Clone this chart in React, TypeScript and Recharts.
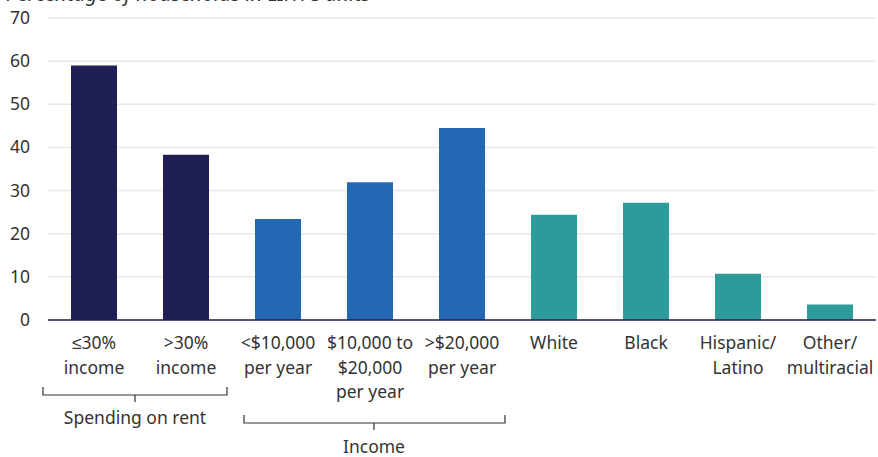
import React from 'react';
import { BarChart, Bar, XAxis, YAxis, CartesianGrid, Cell } from 'recharts';

const categories = [
  '≤30%\nincome',
  '>30%\nincome',
  '<$10,000\nper year',
  '$10,000 to\n$20,000\nper year',
  '>$20,000\nper year',
  'White',
  'Black',
  'Hispanic/\nLatino',
  'Other/\nmultiracial',
];
const values = [59.0, 38.3, 23.4, 31.9, 44.5, 24.4, 27.2, 10.7, 3.6];
const groups = ['rent', 'rent', 'income', 'income', 'income', 'race', 'race', 'race', 'race'];
const yTicks = [0, 10, 20, 30, 40, 50, 60, 70];

const groupColors: Record<string, string> = {
  rent: '#1f1f56',
  income: '#2467b3',
  race: '#2d9b9a',
};

const data = categories.map((name, i) => ({ name, value: values[i], group: groups[i] }));

const FONT = '"Noto Sans", "Segoe UI", sans-serif';

const XTick = (props: any) => {
  const { x, y, payload } = props;
  const lines = String(payload.value).split('\n');
  return (
    <g transform={`translate(${x},${y})`}>
      {lines.map((l, i) => (
        <text key={i} x={0} y={21 + i * 24.5} textAnchor="middle" fill="#333" fontSize={17.5} fontFamily={FONT}>
          {l}
        </text>
      ))}
    </g>
  );
};

const YTick = (props: any) => {
  const { y, payload } = props;
  return (
    <text x={30} y={y + 6} textAnchor="end" fill="#333" fontSize={17.5} fontFamily={FONT}>
      {payload.value}
    </text>
  );
};

export default function App() {
  return (
    <div style={{ position: 'absolute', left: 0, top: 0, width: 878, height: 457, background: '#fff', overflow: 'hidden' }}>
      <BarChart
        width={878}
        height={457}
        data={data}
        margin={{ top: 18, right: 2, left: 0, bottom: 0 }}
      >
        <CartesianGrid vertical={false} stroke="#e3e7f0" strokeWidth={1.5} />
        <XAxis
          dataKey="name"
          interval={0}
          height={137}
          tickLine={false}
          axisLine={{ stroke: '#1f1f56', strokeWidth: 1.5 }}
          tick={<XTick />}
        />
        <YAxis
          width={48}
          domain={[0, 70]}
          ticks={yTicks}
          axisLine={false}
          tickLine={false}
          tick={<YTick />}
        />
        <Bar dataKey="value" isAnimationActive={false} barSize={46}>
          {data.map((d, i) => (
            <Cell key={i} fill={groupColors[d.group]} />
          ))}
        </Bar>
      </BarChart>
      <svg width={878} height={457} style={{ position: 'absolute', left: 0, top: 0, pointerEvents: 'none' }}>
        <text x={6} y={1} fontSize={20.5} fontStyle="italic" fill="#333" fontFamily={FONT}>
          Percentage of households in LIHTC units
        </text>
        <path d="M43,387 V395 H227 V387 M135,395 V402" fill="none" stroke="#333" strokeWidth={1.2} />
        <text x={135} y={424} textAnchor="middle" fontSize={17.5} fill="#333" fontFamily={FONT}>
          Spending on rent
        </text>
        <path d="M244,415 V423 H505 V415 M374,423 V430" fill="none" stroke="#333" strokeWidth={1.2} />
        <text x={374} y={453} textAnchor="middle" fontSize={17.5} fill="#333" fontFamily={FONT}>
          Income
        </text>
      </svg>
    </div>
  );
}
